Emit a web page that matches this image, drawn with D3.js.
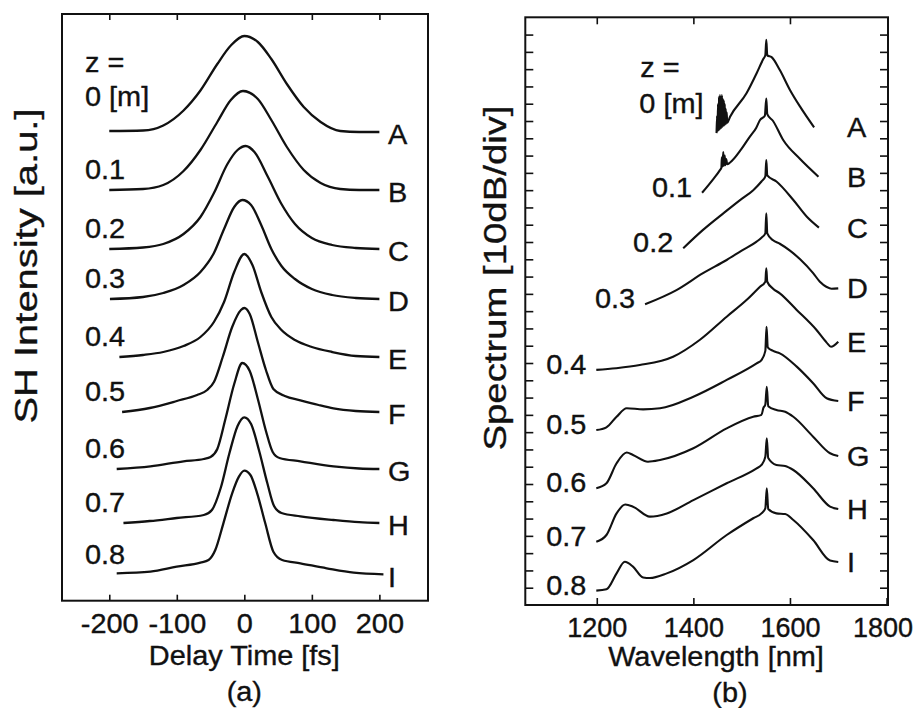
<!DOCTYPE html>
<html><head><meta charset="utf-8">
<script src="https://cdn.jsdelivr.net/npm/d3@7"></script>
<style>
body{margin:0;background:#fff;}
svg text{font-family:"Liberation Sans",Arial,Helvetica,sans-serif;fill:#111;stroke:#111;stroke-width:0.35px;}
</style></head>
<body><svg id="c" width="916" height="708"></svg>
<script>
// ---------- DATA ----------
const curveNames = ["A","B","C","D","E","F","G","H","I"];
const zLabels = ["0 [m]","0.1","0.2","0.3","0.4","0.5","0.6","0.7","0.8"];
const delayTicks = [-200,-100,0,100,200];
const waveTicks = [1200,1400,1600,1800];
// panel (a): vertical stacking offsets of each SH trace (a.u.)
const offsetsA = [4.43,3.85,3.26,2.76,2.18,1.63,1.06,0.52,0];
// panel (a): [delay fs, SH intensity a.u.]
const pulseA = [[-200,0.01],[-150,0.015],[-120,0.065],[-90,0.215],[-65,0.415],[-40,0.68],[-20,0.865],[0,0.96],[20,0.9],[40,0.73],[63,0.48],[88,0.25],[113,0.1],[142,0.01],[170,0],[200,0]];
const pulseB = [[-200,0],[-150,0.01],[-120,0.05],[-90,0.19],[-65,0.4],[-40,0.68],[-20,0.9],[-2,0.99],[20,0.91],[40,0.7],[63,0.43],[88,0.2],[113,0.07],[142,0.01],[170,0],[200,0]];
const pulseC = [[-200,0],[-150,0.015],[-120,0.05],[-90,0.15],[-65,0.32],[-45,0.56],[-25,0.85],[-10,0.99],[2,1.03],[15,0.97],[35,0.72],[55,0.45],[75,0.25],[100,0.11],[130,0.04],[165,0.01],[200,0]];
const pulseD = [[-199,0],[-150,0.02],[-120,0.06],[-90,0.14],[-65,0.27],[-45,0.46],[-30,0.7],[-15,0.92],[-3,0.99],[10,0.94],[25,0.74],[40,0.5],[55,0.33],[75,0.2],[100,0.1],[130,0.04],[165,0.01],[200,0]];
const pulseE = [[-185,0],[-150,0.02],[-120,0.05],[-90,0.11],[-65,0.2],[-45,0.35],[-30,0.55],[-15,0.85],[0,1.03],[12,0.92],[25,0.65],[40,0.4],[55,0.27],[75,0.17],[100,0.1],[130,0.05],[165,0.01],[200,0]];
const pulseF = [[-181,0],[-140,0.04],[-100,0.11],[-70,0.17],[-55,0.22],[-45,0.3],[-32,0.55],[-18,0.85],[-5,1.02],[0,1.04],[8,0.98],[20,0.7],[32,0.42],[43,0.23],[60,0.16],[83,0.117],[110,0.07],[132,0.037],[165,0.01],[200,0]];
const pulseG = [[-189,0],[-139,0.027],[-90,0.077],[-60,0.1],[-50,0.12],[-40,0.2],[-28,0.5],[-15,0.85],[-3,1.06],[8,0.98],[20,0.7],[32,0.38],[42,0.17],[52,0.11],[83,0.077],[132,0.027],[170,0.005],[200,0]];
const pulseH = [[-179,0],[-140,0.02],[-100,0.05],[-60,0.08],[-48,0.13],[-35,0.35],[-22,0.7],[-10,0.97],[0,1.057],[10,0.99],[22,0.72],[34,0.4],[44,0.17],[55,0.1],[83,0.067],[132,0.03],[170,0.008],[200,0]];
const pulseI = [[-189,0.017],[-139,0.033],[-100,0.083],[-65,0.123],[-53,0.15],[-43,0.25],[-31,0.517],[-18,0.817],[-8,0.983],[0,1.043],[9,1.0],[19,0.817],[31,0.517],[43,0.233],[56,0.15],[83,0.117],[122,0.067],[162,0.023],[206,0.007]];
// panel (b): [wavelength nm, level on 10dB/div axis (dB)]
const specA = [[1448,273],[1449,283],[1450,274],[1451,290],[1452,274.5],[1453,294],[1454,275],[1455,295],[1456,275.5],[1457,294],[1458,276],[1459,295],[1460,276.5],[1461,293],[1462,277],[1463,292],[1464,277.5],[1465,290],[1466,278],[1467,287],[1468,278.5],[1469,285],[1470,279],[1476,282.5],[1510,296],[1531,307.6],[1545,316],[1549,318],[1551,327],[1553,318],[1562,317],[1579,309.5],[1600,298],[1621,288.3],[1650,276.3]];
const specB = [[1418,238.5],[1440,246],[1455,251.6],[1458,253],[1459,259],[1460,253.5],[1462,262],[1463,254],[1465,260],[1466,254.5],[1468,258],[1470,255],[1476,256],[1500,264],[1517,271],[1530,276],[1538,280.6],[1548,283],[1551,293],[1553,284],[1565,280],[1586,269],[1621,258],[1659,247.8]];
const specC = [[1379,206.4],[1420,217],[1462,226.6],[1500,235],[1524,240],[1541,245],[1549,248],[1551,257.4],[1553,248.5],[1572,245],[1607,234.3],[1635,224.6],[1660,218.3]];
const specD = [[1300,174],[1365,182.2],[1420,192],[1469,199.6],[1500,205],[1531,210.2],[1541,212.5],[1549,215],[1551,226.6],[1553,215],[1565,211],[1579,209],[1600,205],[1621,200],[1648,192],[1662,187],[1676,184],[1686,183],[1700,183.2]];
const specE = [[1199,136],[1240,137],[1289,138.8],[1358,143.6],[1413,153.3],[1469,166.8],[1510,176.4],[1538,184.1],[1549,187],[1551,194.8],[1553,187],[1565,183],[1579,180.3],[1614,170.7],[1655,159.1],[1676,151.8],[1685,149.4],[1700,152.3]];
const specF = [[1199,101.2],[1220,102.8],[1241,108.9],[1262,113.8],[1296,113.2],[1331,113.8],[1400,120.5],[1469,130.2],[1531,139.8],[1541,141.7],[1549,147],[1551.5,161],[1554,149],[1565,147],[1579,145.6],[1614,137.9],[1648,128.3],[1676,119.6],[1700,118]];
const specG = [[1199,67.5],[1220,70.4],[1241,82],[1262,88.2],[1275,86.8],[1306,82.9],[1331,83.9],[1400,90.7],[1469,102.2],[1524,108.9],[1541,110],[1545,114],[1549,116],[1552,126.3],[1555,115],[1572,112.8],[1590,111.8],[1607,108.9],[1648,97.4],[1683,87.8],[1700,86.2]];
const specH = [[1199,36.6],[1220,40.5],[1241,53],[1259,58.1],[1275,56.9],[1310,51.1],[1345,53],[1400,60.7],[1469,70.4],[1531,79.1],[1541,81],[1549,85.8],[1552,96.4],[1555,85],[1572,81],[1590,80.4],[1607,78.1],[1648,67.5],[1683,56.9],[1700,55.5]];
const specI = [[1199,8.3],[1220,9.1],[1241,18.3],[1258,25],[1275,22.2],[1296,15.9],[1310,15.6],[1345,18.3],[1400,26],[1469,40.5],[1524,50.2],[1541,53],[1549,55.9],[1552,67.5],[1555,55.5],[1572,53],[1590,52.6],[1607,49.2],[1648,37.6],[1683,25.7],[1700,24.9]];

const pulses = [pulseA,pulseB,pulseC,pulseD,pulseE,pulseF,pulseG,pulseH,pulseI];
const spectra = [specA,specB,specC,specD,specE,specF,specG,specH,specI];

// ---------- LAYOUT ----------
const svg = d3.select("#c");
svg.append("rect").attr("width",916).attr("height",708).attr("fill","#fff");
const FS = 27, SX = 1.07;
function label(g,x,y,s,anchor){
  return g.append("text").attr("transform",`translate(${x},${y}) scale(${SX},1)`)
    .attr("text-anchor",anchor||"start").attr("font-size",FS).text(s);
}
function styleAxis(g,sx){
  g.select(".domain").remove();
  g.selectAll("line").attr("stroke","#111").attr("stroke-width",1.6);
  g.selectAll("text").attr("font-size",FS).attr("font-family",null).attr("fill","#111").attr("transform",`scale(${sx||SX},1)`);
  return g;
}

// Panel (a)
const A = {l:62,t:14,r:428,b:600.7};
const xA = d3.scaleLinear().domain([-270,272]).range([A.l,A.r]);
const yA = d3.scaleLinear().domain([-0.257,5.61]).range([A.b,A.t]);
const gA = svg.append("g");
styleAxis(gA.append("g").attr("transform",`translate(0,${A.b})`)
  .call(d3.axisBottom(xA).tickValues(delayTicks).tickSize(-6).tickPadding(13).tickFormat(d=>String(d))));
styleAxis(gA.append("g").attr("transform",`translate(0,${A.t})`)
  .call(d3.axisTop(xA).tickValues(delayTicks).tickSize(-6).tickFormat(()=>"")));
gA.append("rect").attr("x",A.l).attr("y",A.t).attr("width",A.r-A.l).attr("height",A.b-A.t)
  .attr("fill","none").attr("stroke","#111").attr("stroke-width",2);

const lineA = (off)=>d3.line().x(d=>xA(d[0])).y(d=>yA(d[1]+off)).curve(d3.curveMonotoneX);
pulses.forEach((p,i)=>{
  gA.append("path").attr("d",lineA(offsetsA[i])(p)).attr("fill","none").attr("stroke","#111").attr("stroke-width",2.3).attr("stroke-linejoin","round");
  label(gA,388,yA(offsetsA[i])+12,curveNames[i]);
  if(i===0){
    label(gA,85,yA(offsetsA[i])-26,zLabels[i]);
    label(gA,85,yA(offsetsA[i])-60,"z =");
  } else {
    label(gA,85,yA(offsetsA[i])-11,zLabels[i]);
  }
});
label(gA,xA(0),665,"Delay Time [fs]","middle");
label(gA,xA(0),701,"(a)","middle");
gA.append("text").attr("transform","translate(37,266) rotate(-90)").attr("text-anchor","middle")
  .attr("font-size",32).attr("textLength",315).attr("lengthAdjust","spacingAndGlyphs").text("SH Intensity [a.u.]");

// Panel (b)
const B = {l:525.3,t:17.3,r:888,b:605};
const xB = d3.scaleLinear().domain([1052,1803]).range([B.l,B.r]);
const yB = d3.scaleLinear().domain([0,340]).range([B.b,B.t]);
const gB = svg.append("g");
const dbTicks = d3.range(10,340,10);
const bBot = styleAxis(gB.append("g").attr("transform",`translate(0,${B.b})`)
  .call(d3.axisBottom(xB).tickValues(waveTicks).tickSize(-7).tickPadding(13).tickFormat(d=>String(d))),1.0);
bBot.selectAll(".tick").filter(d=>d===1800).select("text").attr("dx",-4);
styleAxis(gB.append("g").attr("transform",`translate(0,${B.t})`)
  .call(d3.axisTop(xB).tickValues(waveTicks.slice(0,3)).tickSize(-7).tickFormat(()=>"")));
styleAxis(gB.append("g").attr("transform",`translate(${B.l},0)`)
  .call(d3.axisLeft(yB).tickValues(dbTicks).tickSize(-8).tickFormat(()=>"")));
styleAxis(gB.append("g").attr("transform",`translate(${B.r},0)`)
  .call(d3.axisRight(yB).tickValues(dbTicks).tickSize(-8).tickFormat(()=>"")));
gB.append("rect").attr("x",B.l).attr("y",B.t).attr("width",B.r-B.l).attr("height",B.b-B.t)
  .attr("fill","none").attr("stroke","#111").attr("stroke-width",2);

const lineB = d3.line().x(d=>xB(d[0])).y(d=>yB(d[1])).curve(d3.curveMonotoneX);
spectra.forEach((s,i)=>{
  gB.append("path").attr("d",lineB(s)).attr("fill","none").attr("stroke","#111").attr("stroke-width",2.1).attr("stroke-linejoin","round");
  const st = s[0], en = s[s.length-1];
  label(gB,847,yB(en[1])+10,curveNames[i]);
  if(i===0){
    label(gB,xB(st[0])-13,yB(st[1])-20,zLabels[i],"end");
    label(gB,xB(st[0])-37,yB(st[1])-56,"z =","end");
  } else {
    label(gB,xB(st[0])-10,yB(st[1])+4,zLabels[i],"end");
  }
});
label(gB,716,666,"Wavelength [nm]","middle");
label(gB,730,702,"(b)","middle");
gB.append("text").attr("transform","translate(506,278) rotate(-90)").attr("text-anchor","middle")
  .attr("font-size",32).attr("textLength",345).attr("lengthAdjust","spacingAndGlyphs").text("Spectrum [10dB/div]");
</script></body></html>
